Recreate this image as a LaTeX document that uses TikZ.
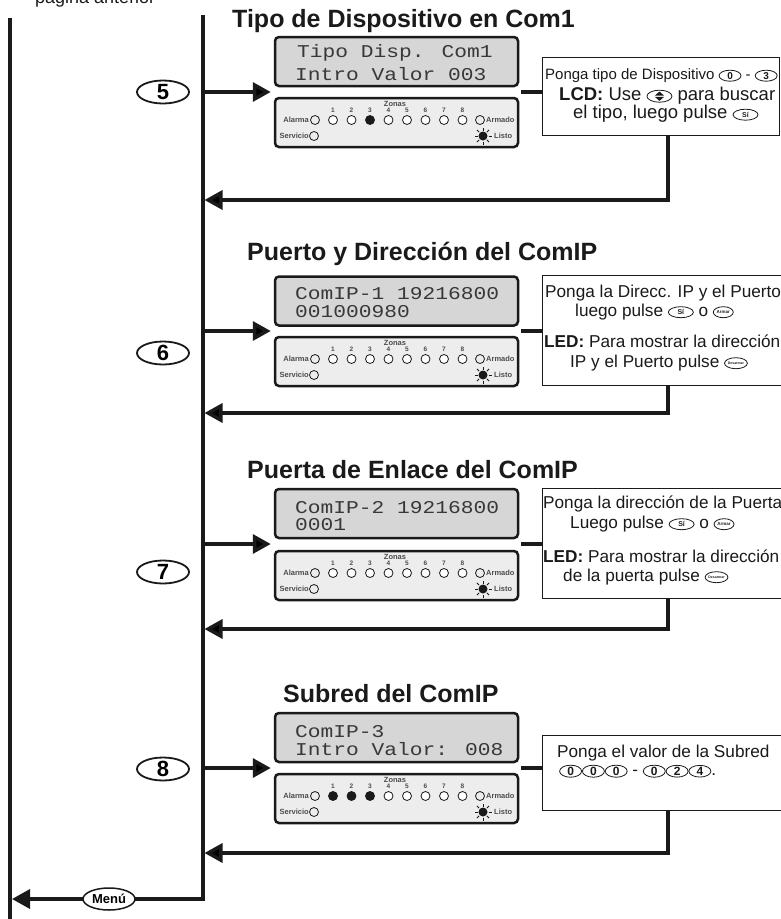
\documentclass[tikz,border=0pt]{standalone}
\usepackage{fontspec}
\setmainfont{Liberation Sans}
\newfontfamily\lcdfont[FakeStretch=1.18]{Liberation Mono}
\usetikzlibrary{shapes.geometric,arrows.meta,calc}

\definecolor{ink}{HTML}{1A1A1A}

\newcommand{\keycap}[3][24]{\tikz[x=1pt,y=1pt,baseline={([yshift=-3.8pt]kc.center)}]\node[draw=ink,ellipse,line width=0.8pt,minimum width=#1pt,minimum height=11pt,inner sep=0pt,outer sep=0pt,font=\bfseries\fontsize{#2}{#2}\selectfont](kc){#3};}
\newcommand{\updownkey}{\tikz[x=1pt,y=1pt,baseline=-3.8pt]{\node[draw=ink,ellipse,line width=0.8pt,minimum width=25pt,minimum height=12pt,inner sep=0pt](ud){};
  \fill[ink] (ud.center) ++(-4.5,0.7) -- ++(9,0) -- ++(-4.5,4) -- cycle;
  \fill[ink] (ud.center) ++(-4.5,-0.7) -- ++(9,0) -- ++(-4.5,-4) -- cycle;}}

\begin{document}
\begin{tikzpicture}[x=1pt, y=-1pt,
  line/.style={line width=3.5pt, draw=ink},
  arr/.style={line, -{Triangle[length=18pt,width=19pt]}},
  stepnum/.style={ellipse, draw=ink, line width=1.8pt, fill=white, minimum width=52pt, minimum height=23pt, inner sep=0pt, font=\bfseries\fontsize{22}{22}\selectfont},
  menukey/.style={ellipse, draw=ink, line width=1.5pt, fill=white, minimum width=52pt, minimum height=22pt, inner sep=0pt, font=\bfseries\fontsize{13}{13}\selectfont},
  title/.style={anchor=base west, inner sep=0pt, font=\bfseries\fontsize{25}{25}\selectfont, text=ink},
  lcd/.style={draw=ink, line width=2.5pt, rounded corners=4pt, fill=black!16, minimum width=243pt, minimum height=49pt},
  ledpanel/.style={draw=ink, line width=2.5pt, rounded corners=4pt, fill=black!7, minimum width=243pt, minimum height=49pt},
  lcdtxt/.style={anchor=base west, inner sep=0pt, font=\lcdfont\fontsize{18}{18}\selectfont, text=black!78},
  infobox/.style={draw=ink, line width=1.3pt, anchor=north west, inner sep=0pt},
  info/.style={anchor=base west, inner sep=0pt, font=\fontsize{17.2}{17.2}\selectfont, text=ink},
  led/.style={circle, draw=ink, line width=0.8pt, minimum size=9pt, inner sep=0pt},
  ledlbl/.style={inner sep=0pt, font=\bfseries\fontsize{7.5}{7.5}\selectfont, text=black!70},
  zonenum/.style={inner sep=0pt, font=\bfseries\fontsize{6.5}{6.5}\selectfont, text=black!70}]

  \useasboundingbox (0,0) rectangle (781,919);

  % main lines
  \coordinate (top) at (203,15);
  \coordinate (bot) at (203,899);
  \draw[line] (10,18) -- (10,925);
  \draw[arr] (top) -- (bot) -- (12,899);
  \node[menukey] (menu) at (109,899) {Menú};
  \node[anchor=base west, inner sep=0pt, font=\fontsize{18}{18}\selectfont, text=ink] (prev) at (35,3) {página anterior};

  % titles
  \node[title] (tit5) at (232,27) {Tipo de Dispositivo en Com1};
  \node[title] (tit6) at (247,260) {Puerto y Dirección del ComIP};
  \node[title] (tit7) at (247,478) {Puerta de Enlace del ComIP};
  \node[title] (tit8) at (283,702) {Subred del ComIP};

  % step numbers
  \node[stepnum] (s5) at (163,92) {5};
  \node[stepnum] (s6) at (163,353) {6};
  \node[stepnum] (s7) at (163,572) {7};
  \node[stepnum] (s8) at (163,769) {8};

  % LCD screens
  \node[lcd] (lcd5) at (396.5,61.5) {};
  \node[lcd] (lcd6) at (396.5,301) {};
  \node[lcd] (lcd7) at (396.5,513.5) {};
  \node[lcd] (lcd8) at (396.5,737.5) {};
  \node[lcdtxt] (l5a) at (297,57) {Tipo Disp. Com1};
  \node[lcdtxt] (l5b) at (295,80) {Intro Valor 003};
  \node[lcdtxt] (l6a) at (295,299) {ComIP-1 19216800};
  \node[lcdtxt] (l6b) at (295,317) {001000980};
  \node[lcdtxt] (l7a) at (295,513) {ComIP-2 19216800};
  \node[lcdtxt] (l7b) at (295,530) {0001};
  \node[lcdtxt] (l8a) at (295,737) {ComIP-3};
  \node[lcdtxt] (l8b) at (295,755) {Intro Valor: 008};

  % LED panels
  \foreach \n/\yt/\lit in {5/98/{white,white,ink,white,white,white,white,white},
                           6/337/{white,white,white,white,white,white,white,white},
                           7/551/{white,white,white,white,white,white,white,white},
                           8/774/{ink,ink,ink,white,white,white,white,white}} {
    \node[ledpanel] (pan\n) at (396.5,\yt+24.5) {};
    \node[ledlbl] (zon\n) at (395,\yt+6) {Zonas};
    \node[ledlbl, anchor=east] (alm\n) at (309,\yt+22) {Alarma};
    \node[led] (ledA\n) at (315,\yt+22) {};
    \node[led] (ledR\n) at (480,\yt+22) {};
    \node[ledlbl, anchor=west] (arm\n) at (486,\yt+22) {Armado};
    \node[ledlbl, anchor=east] (ser\n) at (309,\yt+38) {Servicio};
    \node[led] (ledS\n) at (314,\yt+38) {};
    \fill[ink] (483,\yt+38) circle (4.5);
    \foreach \a in {0,45,...,315}
      \draw[ink, line width=0.8pt] (483,\yt+38) ++(\a:5.5) -- ++(\a:3);
    \node[ledlbl, anchor=west] (lis\n) at (494,\yt+38) {Listo};
    \foreach \f [count=\z] in \lit {
      \node[zonenum] (zn\n-\z) at (314.5+18.5*\z,\yt+12.5) {\z};
      \node[led, fill=\f] (led\n-\z) at (314.5+18.5*\z,\yt+22) {};
    }
  }

  % info boxes
  \node[infobox, minimum width=237pt, minimum height=78pt] (info5) at (542,57) {};
  \node[infobox, minimum width=250pt, minimum height=110pt] (info6) at (542,275) {};
  \node[infobox, minimum width=250pt, minimum height=110pt] (info7) at (542,488) {};
  \node[infobox, minimum width=250pt, minimum height=75pt] (info8) at (542,735) {};

  \node[info, font=\fontsize{15}{15}\selectfont] (t5a) at (545,79.5) {Ponga tipo de Dispositivo \keycap[22]{10}{0} - \keycap[22]{10}{3}};
  \node[info, font=\fontsize{18.5}{18.5}\selectfont] (t5b) at (559,100) {\textbf{LCD:} Use \updownkey{} para buscar};
  \node[info, font=\fontsize{18.5}{18.5}\selectfont] (t5c) at (573,118.5) {el tipo, luego pulse \keycap[25]{7}{Sí}};

  \node[info] (t6a) at (545,297) {Ponga la Direcc. IP y el Puerto};
  \node[info] (t6b) at (575,316) {luego pulse \keycap[25]{7}{Sí} o \keycap[20]{4.5}{Armar}};
  \node[info] (t6c) at (544,347) {\textbf{LED:} Para mostrar la dirección};
  \node[info] (t6d) at (570,367) {IP y el Puerto pulse \keycap[20]{3.5}{Desarmar}};

  \node[info] (t7a) at (543,508) {Ponga la dirección de la Puerta};
  \node[info] (t7b) at (570,528) {Luego pulse \keycap[25]{7}{Sí} o \keycap[20]{4.5}{Armar}};
  \node[info] (t7c) at (543,562) {\textbf{LED:} Para mostrar la dirección};
  \node[info] (t7d) at (563,581) {de la puerta pulse \keycap[20]{3.5}{Desarmar}};

  \node[info] (t8a) at (557,757) {Ponga el valor de la Subred};
  \node[info] (t8b) at (559,775) {\keycap[22]{12}{0}\keycap[22]{12}{0}\keycap[22]{12}{0} - \keycap[22]{12}{0}\keycap[22]{12}{2}\keycap[22]{12}{4}.};

  % connectors in
  \coordinate (in5) at (203,92);
  \coordinate (in6) at (203,331);
  \coordinate (in7) at (203,544);
  \coordinate (in8) at (203,768);
  \foreach \n in {5,6,7,8} {
    \draw[arr, shorten >=3pt] (in\n) -- (in\n -| lcd\n.west);
    \draw[line] ([xshift=2pt]in\n -| lcd\n.east) -- (in\n -| info\n.west);
  }

  % connectors back
  \coordinate (ret5) at (668,200);
  \coordinate (ret6) at (668,413);
  \coordinate (ret7) at (668,629);
  \coordinate (ret8) at (668,853);
  \foreach \n in {5,6,7,8}
    \draw[arr, shorten >=1.5pt] (info\n.south -| ret\n) -- (ret\n) -- (ret\n -| top);
\end{tikzpicture}
\end{document}
